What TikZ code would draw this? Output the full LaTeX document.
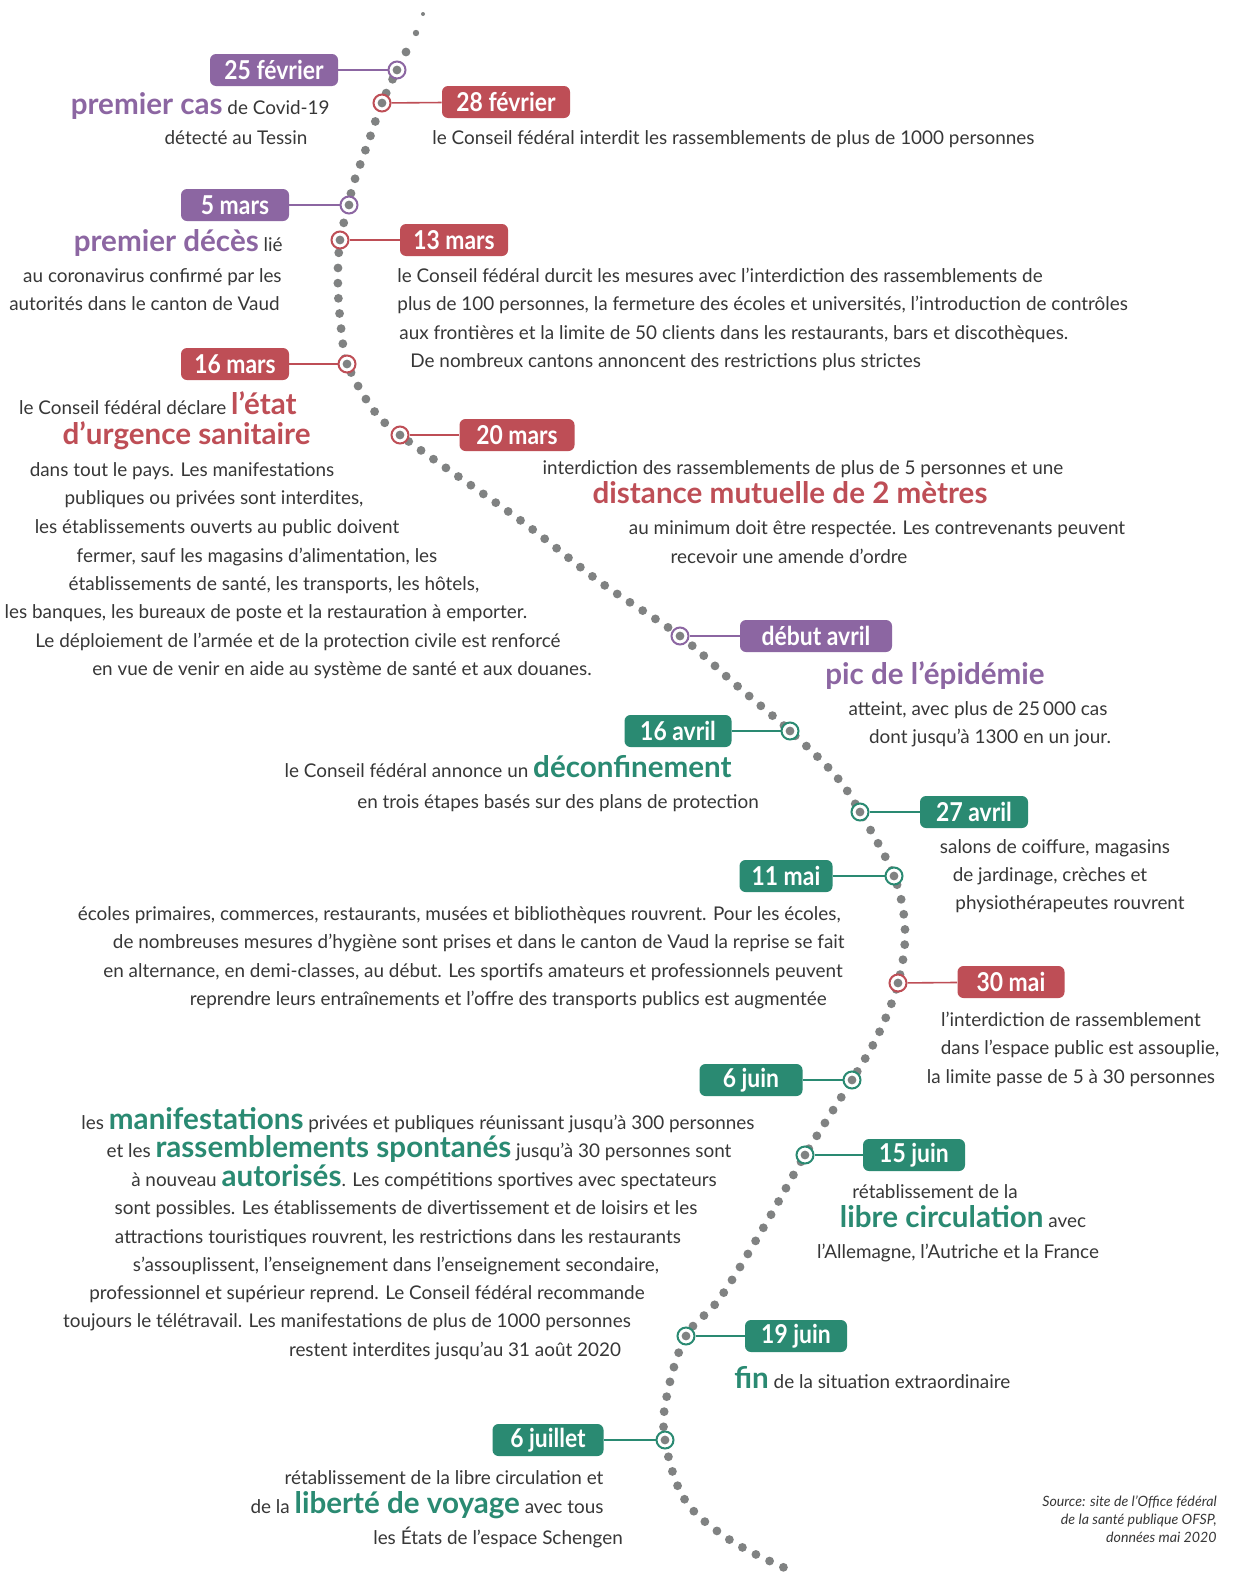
\documentclass[tikz,border=0pt]{standalone}
\usepackage{fontspec}
\setmainfont{Lato}
\newfontfamily\lblfont[FakeStretch=0.88]{Lato}

\definecolor{evpurple}{RGB}{140,102,162}
\definecolor{evred}{RGB}{190,78,86}
\definecolor{evgreen}{RGB}{42,138,114}
\definecolor{dotgray}{RGB}{128,130,130}
\definecolor{txtgray}{RGB}{55,55,55}

% highlighted words inside a line
\newcommand{\hiword}[2]{{\color{#1}\fontsize{14.8}{14.8}\selectfont\bfseries #2}}

\tikzset{
  datebox/.style={rounded corners=3pt, fill=#1, text=white, minimum height=16pt,
    inner xsep=4pt, inner ysep=0pt, font=\lblfont\bfseries\fontsize{13}{13}\selectfont},
  evdot/.style={circle, draw=#1, fill=white, line width=1pt, minimum size=8.5pt,
    inner sep=0pt, path picture={\fill[dotgray] (path picture bounding box.center) circle (2.2pt);}},
  link/.style={draw=#1, line width=0.8pt},
  body/.style={text=txtgray, font=\fontsize{9.45}{11}\selectfont, anchor=mid, inner sep=0pt, yshift=-1pt},
}

\begin{document}
\begin{tikzpicture}[x=0.5pt, y=-0.5pt]

    % Page frame
    \fill[white] (0,0) rectangle (1235,1579);
    \useasboundingbox (0,0) rectangle (1235,1579);

    % The dotted timeline
    \fill[dotgray] (423,14) circle (1pt);
    \fill[dotgray] (416,33) circle (1.6pt);
    \draw[dotgray, line width=4.4pt, line cap=round, dash pattern=on 0pt off 7.6pt]
        plot[smooth, tension=0.6] coordinates {(406,52) (397,70) (382,103) (368,143) (353,185)
        (349,205) (340,240) (338,290) (343,345) (347,364) (370,405) (400,435) (520,520)
        (600,582) (680,636) (735,684) (790,731) (835,775) (860,812) (894,876) (905,930)
        (898,983) (878,1035) (852,1080) (805,1155) (765,1225) (720,1298) (686,1336)
        (667,1395) (665,1440) (685,1500) (730,1540) (785,1568)};

    % 25 fevrier
    \node[evdot=evpurple] (m1) at (397,70) {};
    \node[datebox=evpurple, minimum width=64pt] (d1) at (274,70) {25 février};
    \draw[link=evpurple] (d1) -- (m1);
    \node[body, anchor=mid east] (t1a) at (330,107) {\hiword{evpurple}{premier cas} de Covid-19};
    \node[body] (t1b) at (236,137) {détecté au Tessin};

    % 28 fevrier
    \node[evdot=evred] (m2) at (382,103) {};
    \node[datebox=evred, minimum width=64pt] (d2) at (506,102) {28 février};
    \draw[link=evred] (m2) -- (d2);
    \node[body, anchor=mid west] (t2a) at (432,137) {le Conseil fédéral interdit les rassemblements de plus de 1000 personnes};

    % 5 mars
    \node[evdot=evpurple] (m3) at (349,205) {};
    \node[datebox=evpurple, minimum width=54pt] (d3) at (235,205) {5 mars};
    \draw[link=evpurple] (d3) -- (m3);
    \node[body, anchor=mid east] (t3a) at (283,244) {\hiword{evpurple}{premier décès} lié};
    \node[body, anchor=mid east] (t3b) at (282,275) {au coronavirus confirmé par les};
    \node[body, anchor=mid east] (t3c) at (280,303) {autorités dans le canton de Vaud};

    % 13 mars
    \node[evdot=evred] (m4) at (340,240) {};
    \node[datebox=evred, minimum width=54pt] (d4) at (454,240) {13 mars};
    \draw[link=evred] (m4) -- (d4);
    \node[body, anchor=mid west] (t4a) at (397,275) {le Conseil fédéral durcit les mesures avec l'interdiction des rassemblements de};
    \node[body, anchor=mid west] (t4b) at (397,303) {plus de 100 personnes, la fermeture des écoles et universités, l'introduction de contrôles};
    \node[body, anchor=mid west] (t4c) at (399,332) {aux frontières et la limite de 50 clients dans les restaurants, bars et discothèques.};
    \node[body, anchor=mid west] (t4d) at (410,360) {De nombreux cantons annoncent des restrictions plus strictes};

    % 16 mars
    \node[evdot=evred] (m5) at (347,364) {};
    \node[datebox=evred, minimum width=54pt] (d5) at (235,364) {16 mars};
    \draw[link=evred] (d5) -- (m5);
    \node[body, anchor=mid east] (t5a) at (297,407) {le Conseil fédéral déclare \hiword{evred}{l'état}};
    \node[body, anchor=mid east] (t5b) at (311,437) {\hiword{evred}{d'urgence sanitaire}};
    \node[body] (t5c) at (182,469) {dans tout le pays. Les manifestations};
    \node[body] (t5d) at (214,497) {publiques ou privées sont interdites,};
    \node[body] (t5e) at (217,526) {les établissements ouverts au public doivent};
    \node[body] (t5f) at (257,555) {fermer, sauf les magasins d'alimentation, les};
    \node[body] (t5g) at (274,583) {établissements de santé, les transports, les hôtels,};
    \node[body] (t5h) at (266,611) {les banques, les bureaux de poste et la restauration à emporter.};
    \node[body] (t5i) at (298,640) {Le déploiement de l'armée et de la protection civile est renforcé};
    \node[body] (t5j) at (342,668) {en vue de venir en aide au système de santé et aux douanes.};

    % 20 mars
    \node[evdot=evred] (m6) at (400,435) {};
    \node[datebox=evred, minimum width=57.5pt] (d6) at (517,435) {20 mars};
    \draw[link=evred] (m6) -- (d6);
    \node[body] (t6a) at (803,467) {interdiction des rassemblements de plus de 5 personnes et une};
    \node[body] (t6b) at (790,496) {\hiword{evred}{distance mutuelle de 2 mètres}};
    \node[body] (t6c) at (877,527) {au minimum doit être respectée. Les contrevenants peuvent};
    \node[body] (t6d) at (789,556) {recevoir une amende d'ordre};

    % debut avril
    \node[evdot=evpurple] (m7) at (680,636) {};
    \node[datebox=evpurple, minimum width=76pt] (d7) at (816,636) {début avril};
    \draw[link=evpurple] (m7) -- (d7);
    \node[body] (t7a) at (935,677) {\hiword{evpurple}{pic de l'épidémie}};
    \node[body] (t7b) at (978,708) {atteint, avec plus de 25\,000 cas};
    \node[body] (t7c) at (990,736) {dont jusqu'à 1300 en un jour.};

    % 16 avril
    \node[evdot=evgreen] (m8) at (790,731) {};
    \node[datebox=evgreen, minimum width=53.5pt] (d8) at (678,731) {16 avril};
    \draw[link=evgreen] (d8) -- (m8);
    \node[body, anchor=mid east] (t8a) at (732,770) {le Conseil fédéral annonce un \hiword{evgreen}{déconfinement}};
    \node[body] (t8b) at (558,801) {en trois étapes basés sur des plans de protection};

    % 27 avril
    \node[evdot=evgreen] (m9) at (860,812) {};
    \node[datebox=evgreen, minimum width=54pt] (d9) at (974,812) {27 avril};
    \draw[link=evgreen] (m9) -- (d9);
    \node[body] (t9a) at (1055,846) {salons de coiffure, magasins};
    \node[body] (t9b) at (1050,874) {de jardinage, crèches et};
    \node[body] (t9c) at (1070,902) {physiothérapeutes rouvrent};

    % 11 mai
    \node[evdot=evgreen] (m10) at (894,876) {};
    \node[datebox=evgreen, minimum width=46.5pt] (d10) at (786,876) {11 mai};
    \draw[link=evgreen] (d10) -- (m10);
    \node[body, anchor=mid east] (t10a) at (841,913) {écoles primaires, commerces, restaurants, musées et bibliothèques rouvrent. Pour les écoles,};
    \node[body, anchor=mid east] (t10b) at (845,941) {de nombreuses mesures d'hygiène sont prises et dans le canton de Vaud la reprise se fait};
    \node[body, anchor=mid east] (t10c) at (843,970) {en alternance, en demi-classes, au début. Les sportifs amateurs et professionnels peuvent};
    \node[body, anchor=mid east] (t10d) at (827,998) {reprendre leurs entraînements et l'offre des transports publics est augmentée};

    % 30 mai
    \node[evdot=evred] (m11) at (898,983) {};
    \node[datebox=evred, minimum width=53.5pt] (d11) at (1011,982) {30 mai};
    \draw[link=evred] (m11) -- (d11);
    \node[body] (t11a) at (1071,1019) {l'interdiction de rassemblement};
    \node[body] (t11b) at (1080,1047) {dans l'espace public est assouplie,};
    \node[body] (t11c) at (1071,1076) {la limite passe de 5 à 30 personnes};

    % 6 juin
    \node[evdot=evgreen] (m12) at (852,1080) {};
    \node[datebox=evgreen, minimum width=51.5pt] (d12) at (751,1080) {6 juin};
    \draw[link=evgreen] (d12) -- (m12);
    \node[body] (t12a) at (418,1122) {les \hiword{evgreen}{manifestations} privées et publiques réunissant jusqu'à 300 personnes};
    \node[body] (t12b) at (419,1150) {et les \hiword{evgreen}{rassemblements spontanés} jusqu'à 30 personnes sont};
    \node[body] (t12c) at (424,1179) {à nouveau \hiword{evgreen}{autorisés}. Les compétitions sportives avec spectateurs};
    \node[body] (t12d) at (406,1207) {sont possibles. Les établissements de divertissement et de loisirs et les};
    \node[body] (t12e) at (398,1236) {attractions touristiques rouvrent, les restrictions dans les restaurants};
    \node[body] (t12f) at (396,1264) {s'assouplissent, l'enseignement dans l'enseignement secondaire,};
    \node[body] (t12g) at (367,1292) {professionnel et supérieur reprend. Le Conseil fédéral recommande};
    \node[body] (t12h) at (347,1320) {toujours le télétravail. Les manifestations de plus de 1000 personnes};
    \node[body] (t12i) at (455,1349) {restent interdites jusqu'au 31 août 2020};

    % 15 juin
    \node[evdot=evgreen] (m13) at (805,1155) {};
    \node[datebox=evgreen, minimum width=51pt] (d13) at (914,1155) {15 juin};
    \draw[link=evgreen] (m13) -- (d13);
    \node[body] (t13a) at (935,1191) {rétablissement de la};
    \node[body] (t13b) at (963,1220) {\hiword{evgreen}{libre circulation} avec};
    \node[body] (t13c) at (958,1251) {l'Allemagne, l'Autriche et la France};

    % 19 juin
    \node[evdot=evgreen] (m14) at (686,1336) {};
    \node[datebox=evgreen, minimum width=51pt] (d14) at (796,1336) {19 juin};
    \draw[link=evgreen] (m14) -- (d14);
    \node[body, anchor=mid west] (t14a) at (734,1381) {\hiword{evgreen}{fin} de la situation extraordinaire};

    % 6 juillet
    \node[evdot=evgreen] (m15) at (665,1440) {};
    \node[datebox=evgreen, minimum width=55.5pt] (d15) at (548,1440) {6 juillet};
    \draw[link=evgreen] (d15) -- (m15);
    \node[body] (t15a) at (444,1477) {rétablissement de la libre circulation et};
    \node[body] (t15b) at (427,1506) {de la \hiword{evgreen}{liberté de voyage} avec tous};
    \node[body] (t15c) at (498,1537) {les États de l'espace Schengen};

    % Source
    \node[anchor=north east, align=right, inner sep=0pt, text=txtgray,
          font=\itshape\fontsize{7.1}{9}\selectfont] (src) at (1217,1495)
          {Source: site de l'Office fédéral\\de la santé publique OFSP,\\données mai 2020};

\end{tikzpicture}
\end{document}
